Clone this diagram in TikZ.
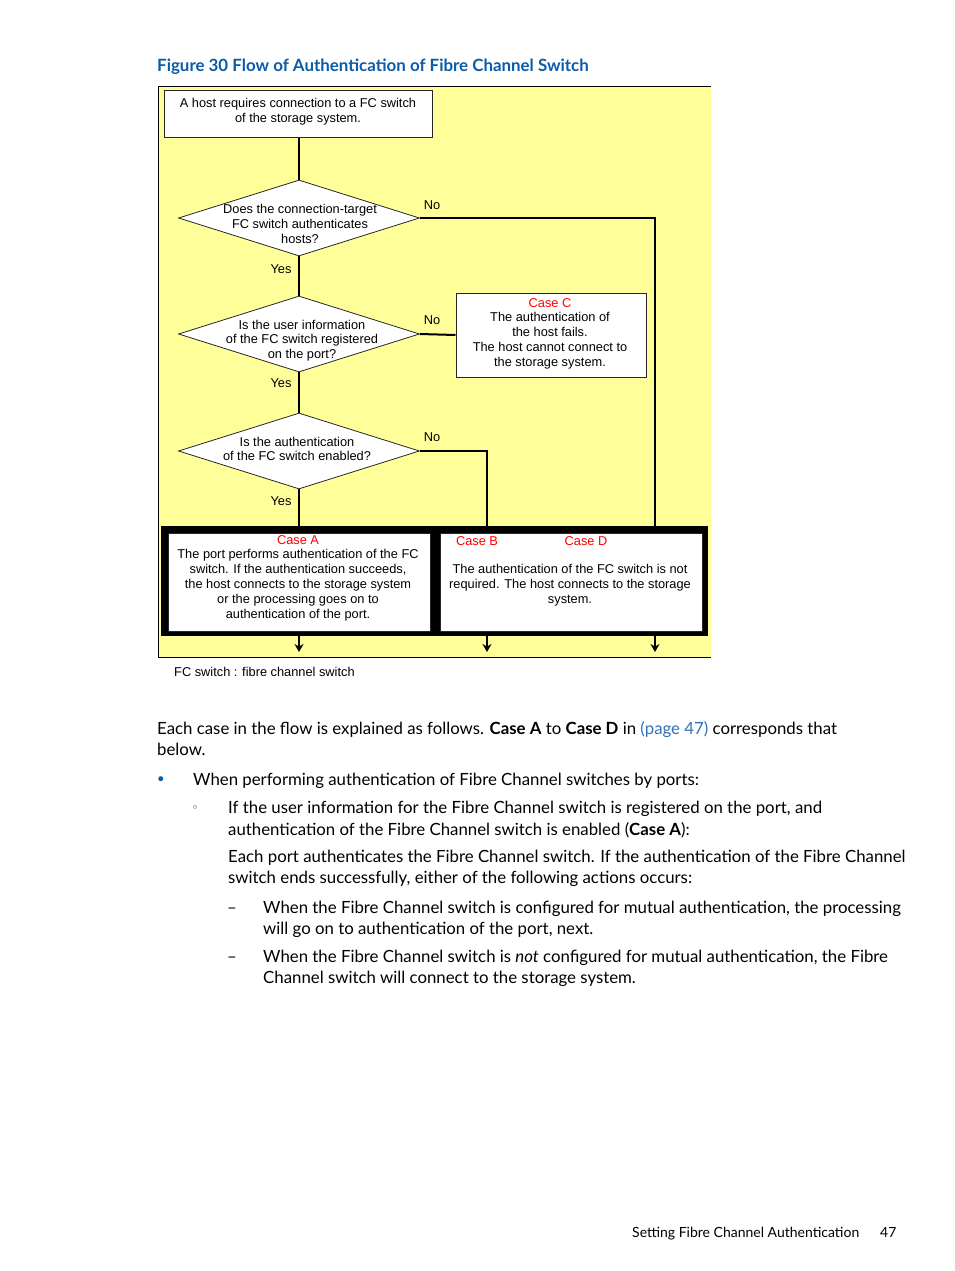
\documentclass[tikz,border=0pt]{standalone}
\usepackage{fontspec}
\setmainfont{Lato}
\newfontfamily\chartfont{Liberation Sans}
\newfontfamily\symbolfont{DejaVu Sans}
\usepackage{xcolor}
\definecolor{HPblue}{HTML}{0B5CA8}
\definecolor{HPlink}{HTML}{2F71B8}
\definecolor{FlowYellow}{HTML}{FFFF99}
\definecolor{CaseRed}{HTML}{FF0000}
\usetikzlibrary{arrows.meta, shapes.geometric, positioning, calc}

\begin{document}
\begin{tikzpicture}[x=1pt, y=-1pt]
    % fc-auth-flow.tex -- authentication flow of the FC switch (page 47)
\tikzset{
  chart/.style={font=\chartfont\fontsize{12.8}{14.8}\selectfont, align=center, inner sep=0},
  stepbox/.style={draw=black!85, fill=white, line width=1pt, inner sep=0},
  decision/.style={diamond, draw=black!85, fill=white, line width=0.8pt, inner sep=0,
    minimum width=241pt, minimum height=76pt},
  flow/.style={line width=2pt, black},
  answer/.style={font=\chartfont\fontsize{12.8}{14}\selectfont, inner sep=0},
  caselbl/.style={font=\chartfont\fontsize{12.8}{14}\selectfont, text=CaseRed, inner sep=0},
  body/.style={anchor=base west, inner sep=0, font=\fontsize{16.8}{21}\selectfont},
}
  % page
  \fill[white] (0,0) rectangle (954,1271);
  \useasboundingbox (0,0) rectangle (954,1271);

  % Figure caption
  \node[anchor=base west, inner sep=0, text=HPblue, font=\bfseries\fontsize{16.9}{19}\selectfont]
    (caption) at (157,72) {Figure 30 Flow of Authentication of Fibre Channel Switch};

  % yellow panel
  \fill[FlowYellow] (158,87) rectangle (711,657);
  \draw[black, line width=1pt] (711,87) -- (158,87) -- (158,657) -- (711,657);

  % Start box
  \node[stepbox, minimum width=268pt, minimum height=47pt] (start) at (298,114.5) {};
  \node[chart] (starttxt) at (298,112)
    {A host requires connection to a FC switch\\of the storage system.};

  % Decisions
  \node[decision] (q1) at (299,218) {};
  \node[chart] (q1txt) at (300,224)
    {Does the connection-target\\FC switch authenticates\\hosts?};
  \node[decision] (q2) at (299,334) {};
  \node[chart] (q2txt) at (302,340.5)
    {Is the user information\\of the FC switch registered\\on the port?};
  \node[decision] (q3) at (299,451) {};
  \node[chart] (q3txt) at (297,449)
    {Is the authentication\\of the FC switch enabled?};

  % Case C
  \node[stepbox, minimum width=190pt, minimum height=84pt] (caseC) at (551,335) {};
  \node[chart] (caseCtxt) at (550,333.5)
    {\textcolor{CaseRed}{Case C}\\The authentication of\\the host fails.\\The host cannot connect to\\the storage system.};

  % Cases A, B and D (heavy frame)
  \node[fill=black, inner sep=0, minimum width=547pt, minimum height=110pt] (frame) at (434.5,581) {};
  \node[stepbox, minimum width=262pt, minimum height=98pt] (caseA) at (299,582) {};
  \node[stepbox, minimum width=262pt, minimum height=98pt] (caseBD) at (571,582) {};
  \node[chart] (caseAtxt) at (298,578)
    {\textcolor{CaseRed}{Case A}\\The port performs authentication of the FC\\switch. If the authentication succeeds,\\the host connects to the storage system\\or the processing goes on to\\authentication of the port.};
  \node[caselbl] (caseB) at (477,541) {Case B};
  \node[caselbl] (caseD) at (586,541) {Case D};
  \node[chart] (caseBDtxt) at (570,585)
    {The authentication of the FC switch is not\\required. The host connects to the storage\\system.};

  % connectors
  \coordinate (colD) at (655,526);
  \coordinate (colB) at (487,526);
  \draw[flow] (q1.north |- start.south) -- (q1.north);
  \draw[flow] (q1.south) -- (q2.north);
  \draw[flow] (q2.south) -- (q3.north);
  \draw[flow] (q3.south) -- (q3.south |- frame.north);
  \draw[flow] (q1.east) -| (colD);
  \draw[flow] (q2.east) -- (caseC.west);
  \draw[flow] (q3.east) -| (colB);

  % answers
  \node[answer] (no1) at (432,205) {No};
  \node[answer] (no2) at (432,320) {No};
  \node[answer] (no3) at (432,437) {No};
  \node[answer] (yes1) at (281,269) {Yes};
  \node[answer] (yes2) at (281,383) {Yes};
  \node[answer] (yes3) at (281,501) {Yes};

  % outputs
  \coordinate (outA) at (299,652);
  \coordinate (outB) at (487,652);
  \coordinate (outD) at (655,652);
  \foreach \o in {outA, outB, outD}
    \draw[flow, -{Stealth[length=8pt, width=9pt]}] (\o |- frame.south) -- (\o);

  \node[chart, anchor=west] (note) at (174,672) {FC switch : fibre channel switch};

  % Body text
  \node[body] (p1a) at (157,734)
    {Each case in the flow is explained as follows. \textbf{Case A} to \textbf{Case D} in \textcolor{HPlink}{(page 47)} corresponds that};
  \node[body] (p1b) at (157,755) {below.};
  \node[anchor=base, inner sep=0, text=HPblue, font=\symbolfont\fontsize{17}{21}\selectfont] (bul1) at (161,785) {•};
  \node[body] (l1) at (193,785) {When performing authentication of Fibre Channel switches by ports:};
  \node[anchor=base, inner sep=0, font=\symbolfont\fontsize{11}{12}\selectfont] (bul2) at (195,811) {◦};
  \node[body] (l2a) at (228,813) {If the user information for the Fibre Channel switch is registered on the port, and};
  \node[body] (l2b) at (228,835) {authentication of the Fibre Channel switch is enabled (\textbf{Case A}):};
  \node[body] (l3a) at (228,862) {Each port authenticates the Fibre Channel switch. If the authentication of the Fibre Channel};
  \node[body] (l3b) at (228,883) {switch ends successfully, either of the following actions occurs:};
  \node[body, anchor=base] (dash1) at (232,913) {–};
  \node[body] (l4a) at (263,913) {When the Fibre Channel switch is configured for mutual authentication, the processing};
  \node[body] (l4b) at (263,934) {will go on to authentication of the port, next.};
  \node[body, anchor=base] (dash2) at (232,962) {–};
  \node[body] (l5a) at (263,962) {When the Fibre Channel switch is \emph{not} configured for mutual authentication, the Fibre};
  \node[body] (l5b) at (263,983) {Channel switch will connect to the storage system.};

  % footer
  \node[body, font=\fontsize{14}{17}\selectfont] (foot) at (632,1237) {Setting Fibre Channel Authentication};
  \node[body, font=\fontsize{14}{17}\selectfont] (folio) at (880,1237) {47};
\end{tikzpicture}
\end{document}
